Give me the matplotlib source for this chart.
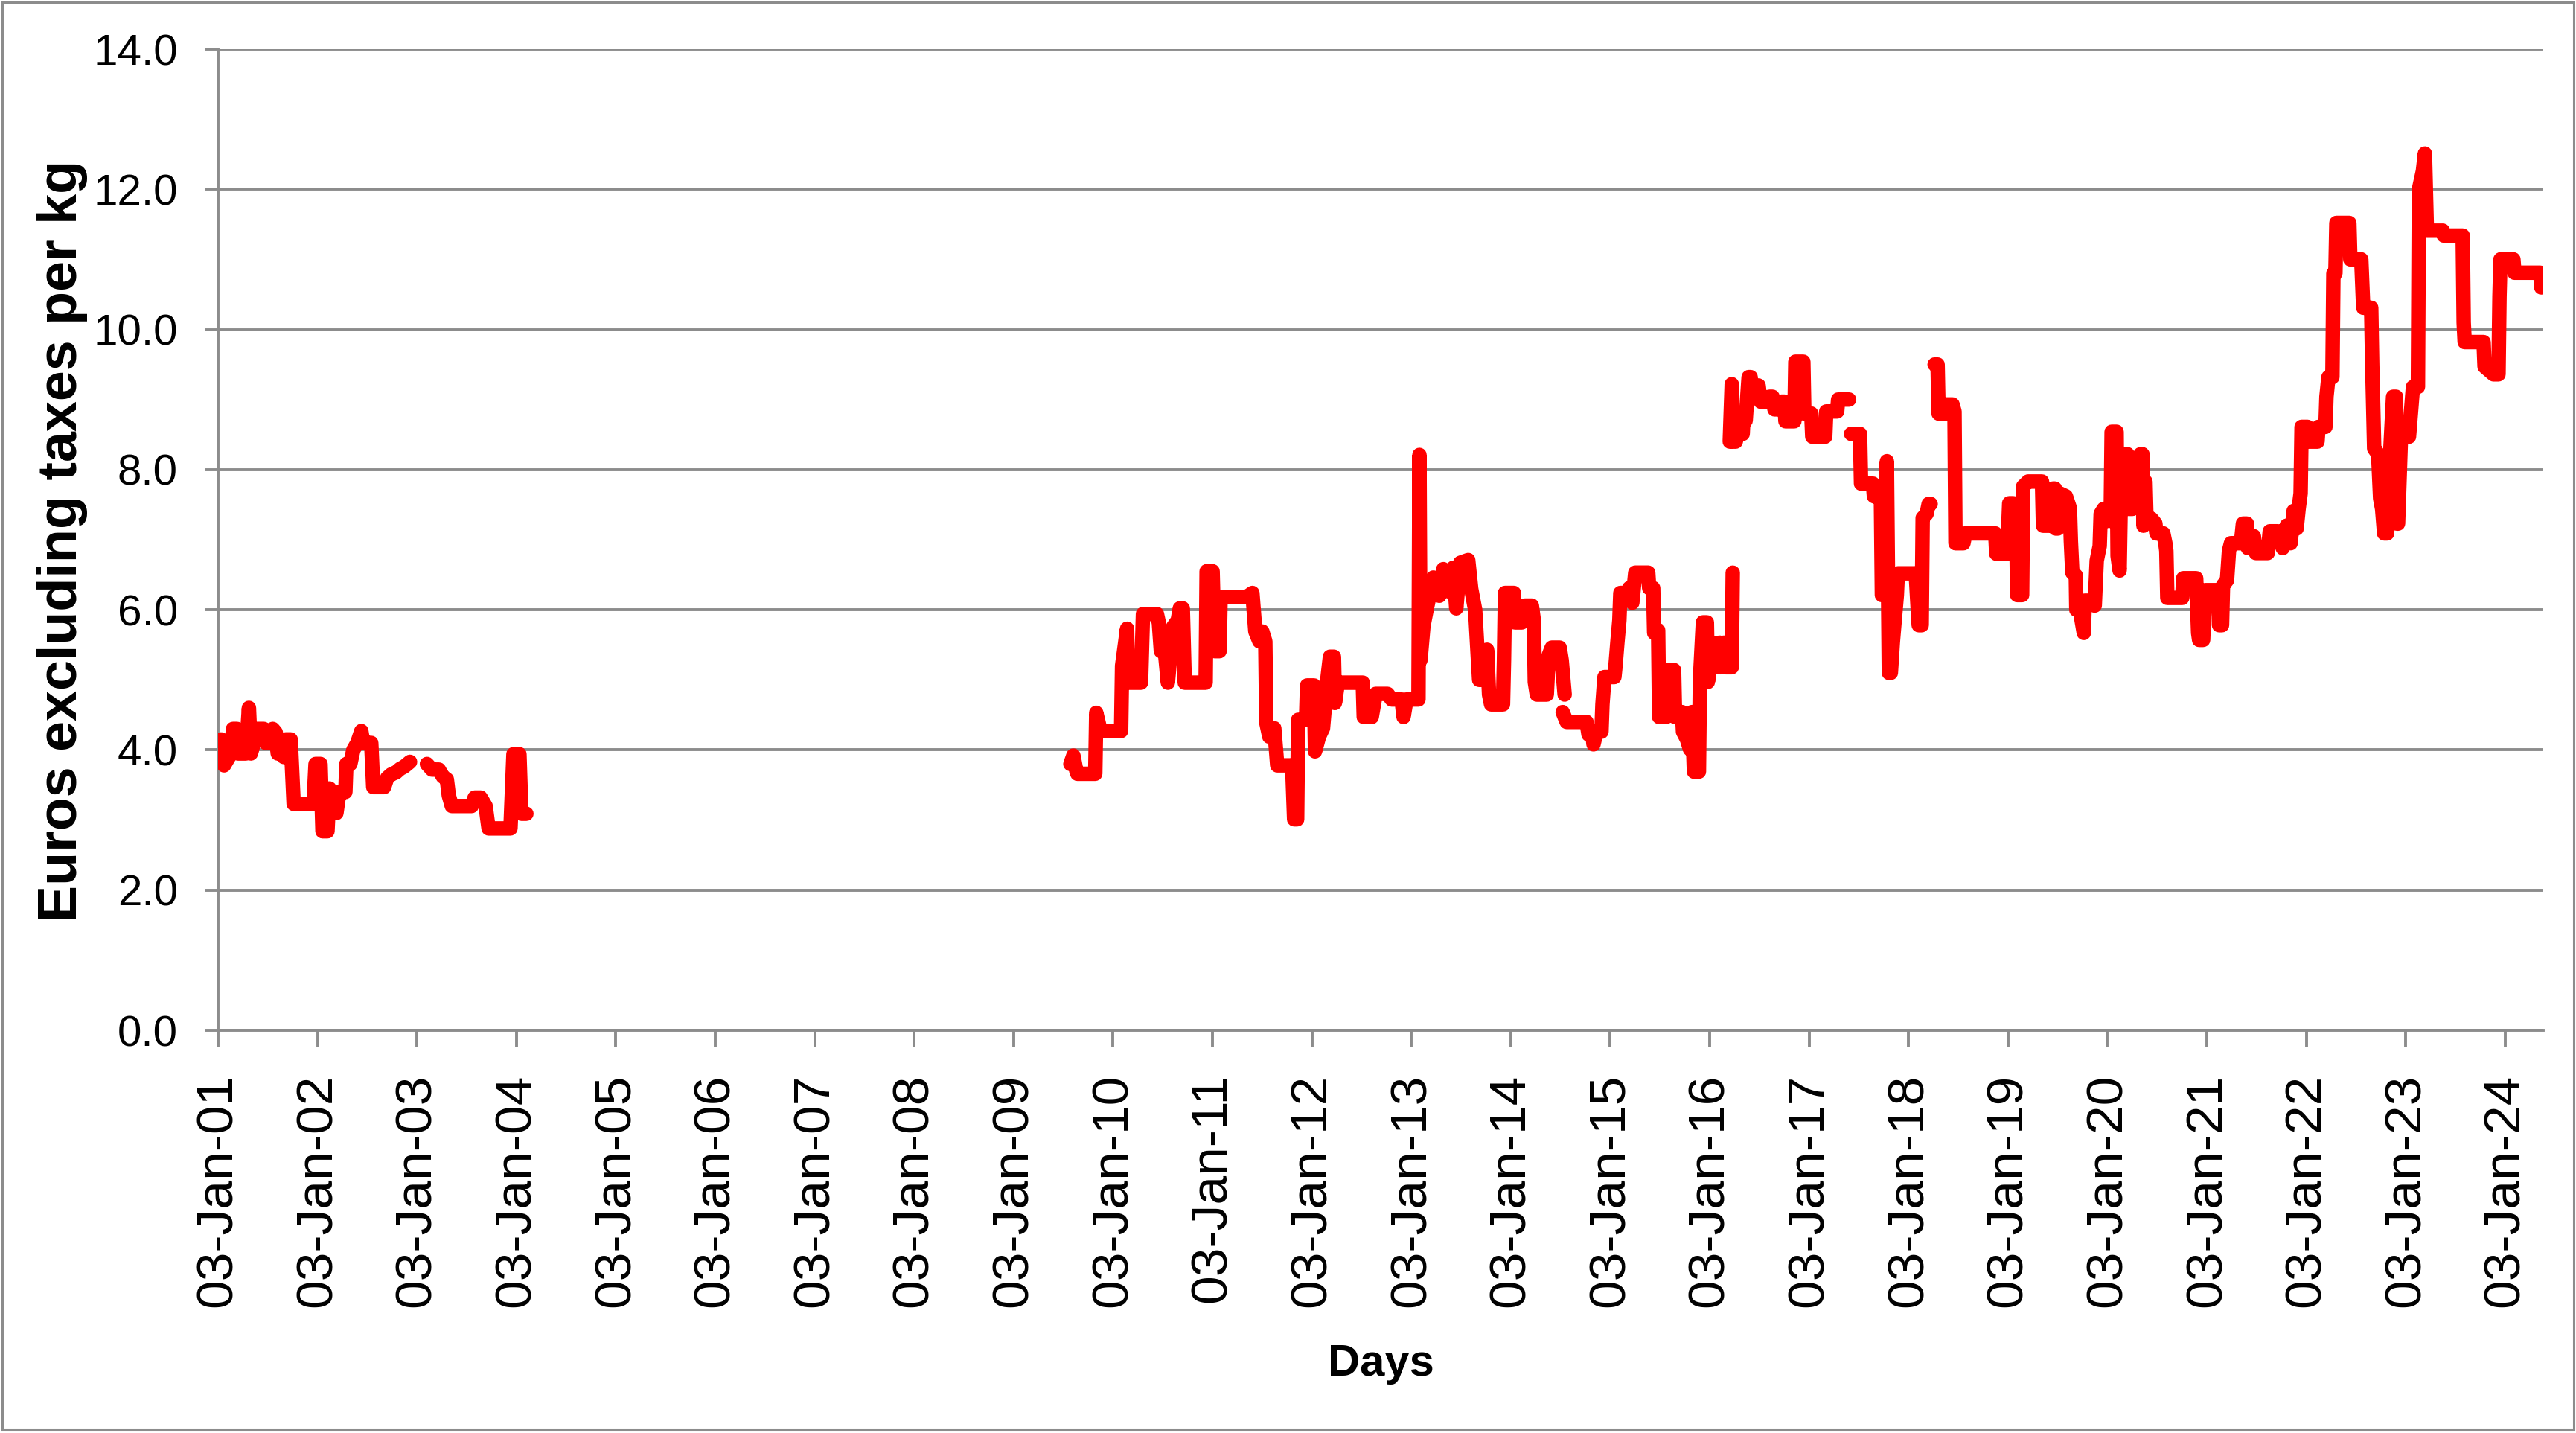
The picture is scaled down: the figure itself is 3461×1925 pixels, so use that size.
import numpy as np
import pandas as pd
import matplotlib
matplotlib.use("Agg")
import matplotlib.pyplot as plt
import matplotlib.dates as mdates
from matplotlib.patches import Rectangle
from matplotlib.ticker import FormatStrFormatter

W, H, DPI = 3461, 1925, 200
GREY = "#8c8c8c"
RED = "#ff0000"
SANS = ["Liberation Sans", "DejaVu Sans"]
START = pd.Timestamp("2001-01-03")

# price series, split where the source line breaks (x = decimal year from 03-Jan)
yrs_a = [2001.03, 2001.06, 2001.13, 2001.15, 2001.19, 2001.20, 2001.28, 2001.31, 2001.33, 2001.36,
         2001.38, 2001.46, 2001.48, 2001.53, 2001.55, 2001.58, 2001.60, 2001.63, 2001.66, 2001.68,
         2001.73, 2001.76, 2001.96, 2001.98, 2002.03, 2002.05, 2002.10, 2002.12, 2002.17, 2002.19,
         2002.22, 2002.28, 2002.29, 2002.33, 2002.36, 2002.40, 2002.44, 2002.46, 2002.54, 2002.56,
         2002.67, 2002.70, 2002.74, 2002.79, 2002.83, 2002.87, 2002.93]
val_a = [4.15, 3.78, 3.95, 4.30, 4.30, 3.95, 3.95, 4.60, 3.95, 4.10,
         4.30, 4.30, 4.10, 4.10, 4.30, 4.25, 3.95, 4.10, 3.90, 4.15,
         4.15, 3.23, 3.23, 3.80, 3.80, 2.84, 2.84, 3.45, 3.10, 3.10,
         3.40, 3.40, 3.80, 3.80, 4.00, 4.10, 4.27, 4.10, 4.10, 3.47,
         3.47, 3.60, 3.65, 3.68, 3.73, 3.76, 3.83]

yrs_b = [2003.10, 2003.15, 2003.22, 2003.26, 2003.30, 2003.32, 2003.35, 2003.55, 2003.58, 2003.64,
         2003.69, 2003.72, 2003.94, 2003.97, 2004.03, 2004.05, 2004.10]
val_b = [3.80, 3.72, 3.72, 3.62, 3.58, 3.35, 3.20, 3.20, 3.32, 3.32,
         3.20, 2.88, 2.88, 3.94, 3.94, 3.09, 3.09]

yrs_c = [2009.57, 2009.60, 2009.63, 2009.64, 2009.82, 2009.83, 2009.86, 2009.88, 2010.08, 2010.09,
         2010.14, 2010.15, 2010.28, 2010.30, 2010.44, 2010.46, 2010.48, 2010.52, 2010.55, 2010.60,
         2010.65, 2010.67, 2010.70, 2010.72, 2010.93, 2010.94, 2011.00, 2011.02, 2011.07, 2011.08,
         2011.34, 2011.40, 2011.43, 2011.47, 2011.50, 2011.53, 2011.54, 2011.57, 2011.62, 2011.65,
         2011.80, 2011.82, 2011.85, 2011.86, 2011.94, 2011.95, 2012.02, 2012.03, 2012.07, 2012.11,
         2012.15, 2012.18, 2012.22, 2012.23, 2012.26, 2012.51, 2012.52, 2012.60, 2012.64, 2012.76,
         2012.80, 2012.90, 2012.92, 2012.95, 2013.07, 2013.08, 2013.09, 2013.12, 2013.16, 2013.22,
         2013.28, 2013.32, 2013.38, 2013.42, 2013.45, 2013.49, 2013.57, 2013.60, 2013.64, 2013.66,
         2013.68, 2013.73, 2013.76, 2013.78, 2013.80, 2013.92, 2013.93, 2013.94, 2014.03, 2014.04,
         2014.11, 2014.14, 2014.21, 2014.23, 2014.24, 2014.26, 2014.36, 2014.38, 2014.41, 2014.49,
         2014.51, 2014.54]
val_c = [3.80, 3.92, 3.70, 3.66, 3.66, 4.53, 4.35, 4.27, 4.27, 5.20,
         5.73, 4.96, 4.96, 5.94, 5.94, 5.81, 5.41, 5.41, 4.96, 5.75,
         5.85, 6.02, 6.02, 4.96, 4.96, 6.55, 6.55, 5.41, 5.41, 6.18,
         6.18, 6.24, 5.69, 5.55, 5.69, 5.55, 4.39, 4.19, 4.31, 3.78,
         3.78, 3.01, 3.01, 4.43, 4.43, 4.92, 4.92, 3.98, 4.19, 4.31,
         4.96, 5.33, 5.33, 4.67, 4.96, 4.96, 4.47, 4.47, 4.80, 4.80,
         4.72, 4.72, 4.47, 4.72, 4.72, 8.21, 5.28, 5.77, 6.06, 6.46,
         6.20, 6.58, 6.26, 6.60, 6.02, 6.67, 6.71, 6.30, 6.00, 5.50,
         5.00, 5.00, 5.43, 4.79, 4.65, 4.65, 5.28, 6.24, 6.24, 5.82,
         5.82, 6.06, 6.06, 5.85, 4.97, 4.79, 4.79, 5.35, 5.46, 5.46,
         5.28, 4.79]

yrs_d = [2014.52, 2014.56, 2014.76, 2014.78, 2014.82, 2014.83, 2014.86, 2014.91, 2014.92, 2014.94,
         2015.04, 2015.05, 2015.07, 2015.09, 2015.10, 2015.17, 2015.19, 2015.22, 2015.25, 2015.38,
         2015.39, 2015.43, 2015.44, 2015.48, 2015.49, 2015.56, 2015.58, 2015.64, 2015.65, 2015.72,
         2015.73, 2015.77, 2015.80, 2015.82, 2015.84, 2015.89, 2015.90, 2015.93, 2015.97, 2015.98,
         2016.03, 2016.06, 2016.10, 2016.11, 2016.14, 2016.16, 2016.22, 2016.23]
val_d = [4.54, 4.40, 4.40, 4.22, 4.22, 4.08, 4.26, 4.26, 4.65, 5.04,
         5.04, 5.18, 5.53, 5.85, 6.24, 6.24, 6.31, 6.10, 6.53, 6.53,
         6.31, 6.31, 5.67, 5.71, 4.47, 4.47, 5.14, 5.14, 4.47, 4.54,
         4.26, 4.15, 4.01, 4.54, 3.69, 3.69, 5.00, 5.82, 5.82, 4.97,
         5.53, 5.18, 5.53, 5.18, 5.53, 5.18, 5.18, 6.53]

yrs_e = [2016.20, 2016.22, 2016.23, 2016.26, 2016.28, 2016.33, 2016.34, 2016.36, 2016.39, 2016.41,
         2016.42, 2016.46, 2016.49, 2016.51, 2016.56, 2016.60, 2016.63, 2016.65, 2016.70, 2016.72,
         2016.75, 2016.76, 2016.85, 2016.86, 2016.94, 2016.95, 2017.02, 2017.03, 2017.16, 2017.17,
         2017.28, 2017.29, 2017.40]
val_e = [8.40, 9.22, 8.40, 8.40, 8.51, 8.51, 8.80, 8.70, 9.32, 9.32,
         9.15, 9.20, 9.20, 8.97, 8.97, 9.04, 9.04, 8.86, 8.86, 8.97,
         8.97, 8.69, 8.69, 9.54, 9.54, 8.80, 8.80, 8.47, 8.47, 8.83,
         8.83, 9.00, 9.00]

yrs_f = [2017.42, 2017.51, 2017.52, 2017.64, 2017.65, 2017.72, 2017.73, 2017.76, 2017.78, 2017.80,
         2017.82, 2017.84, 2017.88, 2017.89, 2018.07, 2018.10, 2018.13, 2018.14, 2018.18, 2018.20,
         2018.22]
val_f = [8.51, 8.51, 7.80, 7.80, 7.62, 7.59, 6.21, 6.21, 8.12, 5.10,
         5.10, 5.54, 6.21, 6.52, 6.52, 5.78, 5.78, 7.31, 7.37, 7.51,
         7.51]

yrs_g = [2018.26, 2018.29, 2018.30, 2018.37, 2018.38, 2018.44, 2018.46, 2018.47, 2018.55, 2018.57,
         2018.87, 2018.88, 2018.99, 2019.01, 2019.05, 2019.08, 2019.09, 2019.14, 2019.15, 2019.20,
         2019.34, 2019.35, 2019.44, 2019.45, 2019.47, 2019.475, 2019.50, 2019.52, 2019.58, 2019.62,
         2019.63, 2019.645, 2019.68, 2019.685, 2019.72, 2019.76, 2019.77, 2019.83, 2019.87, 2019.89,
         2019.92, 2019.93, 2019.96, 2019.99, 2020.03, 2020.04, 2020.09, 2020.10, 2020.12, 2020.14,
         2020.20, 2020.21, 2020.25, 2020.26, 2020.32, 2020.33, 2020.35, 2020.36, 2020.37, 2020.38,
         2020.39, 2020.44, 2020.48, 2020.49, 2020.56, 2020.58, 2020.59, 2020.60, 2020.75, 2020.76,
         2020.89, 2020.91, 2020.92, 2020.96, 2020.98, 2021.11, 2021.12, 2021.15, 2021.16, 2021.20,
         2021.22, 2021.24, 2021.34, 2021.36, 2021.40, 2021.41, 2021.47, 2021.49, 2021.61, 2021.63,
         2021.71, 2021.76, 2021.80, 2021.84, 2021.87, 2021.90, 2021.92, 2021.94, 2021.95, 2022.01,
         2022.02, 2022.11, 2022.12, 2022.19, 2022.20, 2022.22, 2022.26, 2022.27, 2022.29, 2022.30,
         2022.43, 2022.44, 2022.55, 2022.57, 2022.65, 2022.66, 2022.68, 2022.72, 2022.74, 2022.76,
         2022.78, 2022.81, 2022.83, 2022.85, 2022.87, 2022.90, 2022.91, 2022.92, 2022.95, 2022.96,
         2023.02, 2023.03, 2023.07, 2023.12, 2023.13, 2023.17, 2023.19, 2023.21, 2023.37, 2023.38,
         2023.57, 2023.58, 2023.59, 2023.78, 2023.79, 2023.88, 2023.93, 2023.94, 2023.95, 2024.08,
         2024.09, 2024.35, 2024.36]
val_g = [9.50, 9.50, 8.80, 8.80, 8.93, 8.93, 8.83, 6.95, 6.95, 7.09,
         7.09, 6.80, 6.80, 7.52, 7.52, 7.35, 6.21, 6.21, 7.76, 7.83,
         7.83, 7.20, 7.20, 7.73, 7.73, 7.16, 7.16, 7.66, 7.62, 7.45,
         6.98, 6.53, 6.49, 6.00, 6.00, 5.67, 6.13, 6.13, 6.06, 6.70,
         6.91, 7.37, 7.44, 7.27, 7.27, 8.54, 8.54, 6.77, 6.56, 8.22,
         8.22, 7.44, 7.44, 7.69, 7.69, 8.22, 8.22, 7.20, 7.83, 7.83,
         7.30, 7.30, 7.23, 7.09, 7.09, 6.95, 6.84, 6.17, 6.17, 6.45,
         6.45, 5.67, 5.57, 5.57, 6.28, 6.28, 5.78, 5.78, 6.35, 6.42,
         6.84, 6.95, 6.95, 7.23, 7.23, 6.88, 7.05, 6.81, 6.81, 7.12,
         7.12, 6.88, 7.20, 6.95, 7.41, 7.16, 7.44, 7.66, 8.61, 8.61,
         8.40, 8.40, 8.61, 8.61, 9.04, 9.32, 9.32, 10.80, 10.80, 11.52,
         11.52, 11.00, 11.00, 10.31, 10.31, 9.50, 8.30, 8.22, 7.59, 7.44,
         7.09, 7.09, 7.94, 8.50, 9.04, 9.04, 7.23, 7.23, 8.50, 8.50,
         8.50, 8.47, 9.18, 9.18, 12.00, 12.26, 12.51, 11.41, 11.41, 11.34,
         11.34, 10.10, 9.82, 9.82, 9.47, 9.36, 9.36, 10.47, 11.00, 11.00,
         10.81, 10.81, 10.60]

segments = [(yrs_a, val_a), (yrs_b, val_b), (yrs_c, val_c), (yrs_d, val_d),
            (yrs_e, val_e), (yrs_f, val_f), (yrs_g, val_g)]
tick_years = list(range(2001, 2025))


def to_dates(years):
    days = (np.asarray(years, dtype=float) - 2001.0) * 365.25
    return START + pd.to_timedelta(days, unit="D")


fig = plt.figure(figsize=(W / DPI, H / DPI), dpi=DPI)
fig.patches.append(Rectangle((3 / W, 5 / H), 1 - 6 / W, 1 - 8 / H, transform=fig.transFigure,
                             fill=False, edgecolor=GREY, lw=1.1))

ax = fig.add_axes([293 / W, 1 - 1384 / H, (3417 - 293) / W, (1384 - 66) / H])

for yrs, vals in segments:
    ax.plot(to_dates(yrs), vals, color=RED, lw=7,
            solid_capstyle="round", solid_joinstyle="round", zorder=3)

ax.set_ylim(0, 14)
ax.set_yticks(np.arange(0, 14.1, 2))
ax.yaxis.set_major_formatter(FormatStrFormatter("%.1f"))
ax.set_xlim(START, START + pd.Timedelta(days=23.38 * 365.25))
ax.set_xticks([pd.Timestamp(f"{y}-01-03") for y in tick_years])
ax.xaxis.set_major_formatter(mdates.DateFormatter("%d-%b-%y"))

ax.set_axisbelow(True)
ax.grid(axis="y", color=GREY, lw=1.4)
ax.grid(axis="x", visible=False)
for side in ("top", "right"):
    ax.spines[side].set_visible(False)
for side in ("left", "bottom"):
    ax.spines[side].set_color(GREY)
    ax.spines[side].set_linewidth(1.4)

ax.tick_params(axis="y", length=6.5, width=1.4, color=GREY, pad=13)
ax.tick_params(axis="x", length=8, width=1.4, color=GREY, pad=13)
for lab in ax.get_yticklabels():
    lab.set_fontfamily(SANS)
    lab.set_fontsize(21)
for lab in ax.get_xticklabels():
    lab.set_fontfamily(SANS)
    lab.set_fontsize(25)
    lab.set_rotation(90)

fig.text(84 / W, 1 - 726 / H, "Euros excluding taxes per kg", rotation=90,
         ha="center", va="center", fontsize=26.5, fontweight="bold", family=SANS)
fig.text(1855 / W, 1 - 1848 / H, "Days", ha="center", va="baseline",
         fontsize=21.5, fontweight="bold", family=SANS)

fig.savefig("out.png", dpi=DPI)
